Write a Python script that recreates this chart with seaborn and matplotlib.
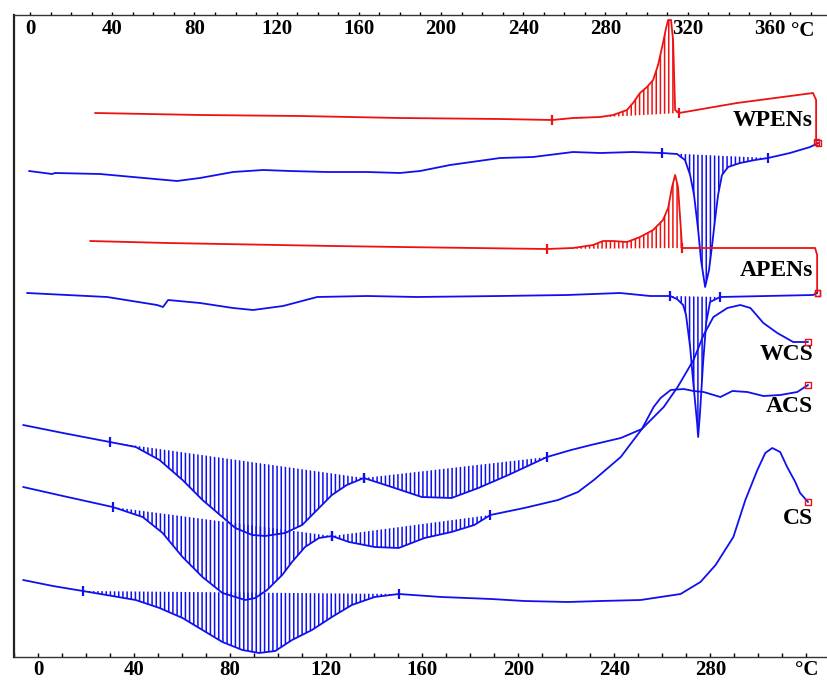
import numpy as np
import pandas as pd
import matplotlib
matplotlib.use("Agg")
import matplotlib.pyplot as plt
import seaborn as sns

# ---- PEN traces, read against the top temperature scale (deg C, arbitrary signal) ----
wpen_red_t = [31.6, 82.7, 131.4, 180.0, 228.7, 254.0, 264.2, 277.4, 283.7, 290.5, 293.4, 296.8,
              300.2, 303.2, 305.6, 308.0, 309.5, 310.5, 311.9, 312.9, 313.9, 315.8, 344.0, 381.0,
              382.5, 382.5]
wpen_red_y = [544, 542, 541, 539, 538, 537, 539, 540, 542, 547, 554, 564, 570, 577, 592, 614, 629,
              637, 637, 617, 547, 544, 554, 564, 557, 515]

wpen_blue_t = [-0.5, 10.7, 12.2, 34.1, 50.1, 71.5, 82.7, 98.8, 113.4, 126.5, 144.5, 164.0, 180.0,
               189.8, 204.4, 228.7, 244.8, 264.2, 277.4, 293.4, 307.5, 314.8, 318.7, 321.2, 323.1,
               325.1, 326.5, 328.5, 330.4, 331.9, 333.3, 334.8, 336.7, 339.7, 345.5, 352.8, 359.1,
               369.8, 379.6, 383.5]
wpen_blue_y = [486, 483, 484, 483, 480, 476, 479, 485, 487, 486, 485, 485, 484, 486, 492, 499, 500,
               505, 504, 505, 504, 503, 497, 482, 462, 427, 397, 370, 387, 412, 437, 462, 482, 490,
               494, 497, 499, 504, 510, 514]

apen_red_t = [29.2, 66.7, 147.4, 180.0, 251.6, 264.2, 274.0, 278.8, 283.7, 290.5, 296.8, 303.2,
              308.0, 310.5, 312.4, 313.9, 315.3, 316.3, 317.3, 382.0, 383.0, 383.0]
apen_red_y = [416, 414, 411, 410, 408, 409, 412, 416, 416, 415, 420, 427, 437, 449, 470, 482, 470,
              440, 409, 409, 402, 364]

apen_blue_t = [-1.5, 37.5, 61.8, 64.7, 67.2, 82.7, 98.8, 108.5, 123.1, 139.7, 164.0, 188.3, 228.7,
               261.3, 287.1, 301.7, 311.4, 314.8, 317.8, 319.2, 321.2, 322.6, 324.6, 325.1, 326.0,
               327.5, 329.0, 330.9, 335.8, 381.0, 383.0]
apen_blue_y = [364, 360, 352, 350, 357, 354, 349, 347, 351, 360, 361, 360, 361, 362, 364, 361, 361,
               358, 352, 342, 310, 277, 234, 220, 244, 294, 334, 355, 360, 362, 364]

# ---- starch traces, read against the bottom temperature scale ----
wcs_t = [-6.2, 10.4, 29.9, 40.7, 50.6, 60.2, 68.5, 76.8, 82.2, 89.2, 94.6, 102.9, 110.0, 116.2,
         122.4, 128.6, 135.7, 147.3, 159.8, 172.2, 183.4, 195.9, 212.0, 222.0, 230.3, 242.7, 251.5,
         260.6, 266.4, 273.0, 277.2, 281.3, 287.1, 292.5, 296.7, 302.1, 307.9, 314.5, 320.7]
wcs_y = [232, 224, 215, 210, 197, 177, 157, 140, 129, 122, 121, 124, 132, 147, 162, 172, 179, 170,
         160, 159, 169, 182, 200, 207, 212, 219, 228, 250, 270, 297, 322, 340, 349, 352, 349, 334,
         324, 315, 315]

acs_t = [-6.2, 10.4, 31.1, 43.6, 51.9, 60.2, 68.5, 76.8, 86.3, 90.5, 95.4, 101.7, 105.8, 111.2,
         117.0, 122.4, 129.5, 140.2, 150.2, 161.0, 172.2, 181.7, 188.4, 202.5, 216.6, 224.9, 231.5,
         242.7, 251.5, 256.4, 259.3, 263.5, 268.9, 273.0, 277.2, 284.2, 289.2, 295.4, 302.1, 309.1,
         316.2, 320.7]
acs_y = [170, 161, 150, 140, 124, 100, 80, 64, 57, 59, 67, 82, 95, 110, 119, 121, 115, 110, 109,
         119, 125, 132, 142, 149, 157, 165, 177, 200, 228, 250, 259, 267, 268, 266, 265, 260, 266,
         265, 261, 262, 265, 272]

cs_t = [-6.2, 6.2, 18.7, 40.7, 50.6, 60.2, 68.5, 76.8, 85.1, 92.1, 98.8, 105.8, 114.1, 122.4,
        130.7, 140.2, 150.2, 168.0, 188.8, 202.5, 220.7, 234.4, 251.0, 267.6, 275.9, 282.2, 289.6,
        294.6, 299.6, 302.9, 305.8, 309.1, 312.0, 315.4, 317.4, 320.7]
cs_y = [77, 71, 66, 57, 49, 39, 27, 15, 7, 4, 6, 17, 27, 40, 52, 60, 63, 60, 58, 56, 55, 56, 57,
        63, 75, 92, 120, 157, 187, 204, 209, 205, 190, 175, 164, 155]

# integration limits of the hatched peaks
wpen_red_peak = [(254.0, 315.8)]
wpen_blue_peak = [(307.5, 359.1)]
apen_red_peak = [(251.6, 317.3)]
apen_blue_peak = [(311.4, 335.8)]
wcs_peaks = [(29.9, 135.7), (135.7, 212.0)]
acs_peaks = [(31.1, 122.4), (122.4, 188.4)]
cs_peaks = [(18.7, 150.2)]

bottom_ticks = [0, 40, 80, 120, 160, 200, 240, 280, 320]
bottom_labels = ['0', '40', '80', '120', '160', '200', '240', '280', '\u00b0C']
top_ticks = [0, 40, 80, 120, 160, 200, 240, 280, 320, 360]
top_labels = ['0', '40', '80', '120', '160', '200', '240', '280', '320', '360']

BLUE = '#1010ee'
RED = '#ee1111'

sns.set_style("white")
plt.rcParams['font.family'] = ['Liberation Serif', 'DejaVu Serif']
plt.rcParams['font.weight'] = 'bold'
plt.rcParams['text.color'] = 'black'
plt.rcParams['xtick.color'] = 'black'
plt.rcParams['xtick.labelcolor'] = 'black'
plt.rcParams['hatch.linewidth'] = 1.1


def trace(ax, t, y, color, peaks):
    df = pd.DataFrame({'t': t, 'y': y})
    sns.lineplot(data=df, x='t', y='y', ax=ax, color=color, lw=1.3,
                 estimator=None, sort=False, legend=False)
    t = np.asarray(t)
    y = np.asarray(y)
    for t0, t1 in peaks:
        i0 = np.where(t == t0)[0][0]
        i1 = np.where(t == t1)[0][0]
        ts = t[i0:i1 + 1]
        ys = y[i0:i1 + 1]
        base = np.interp(ts, [t0, t1], [y[i0], y[i1]])
        ax.fill_between(ts, ys, base, facecolor='none', edgecolor=color,
                        hatch='||||', linewidth=0)
        ax.scatter([t0, t1], [y[i0], y[i1]], marker='|', s=45, color=color,
                   linewidths=1.6, zorder=4)
    ax.scatter([t[-1]], [y[-1]], marker='s', s=14, facecolor='none',
               edgecolor=RED, linewidths=1.0, zorder=5)


fig = plt.figure(figsize=(8.27, 6.8), dpi=100)
ax = fig.add_axes([14 / 827, 23 / 680, 813 / 827, 642 / 680])
ax2 = ax.twiny()

# bottom scale curves
trace(ax, wcs_t, wcs_y, BLUE, wcs_peaks)
trace(ax, acs_t, acs_y, BLUE, acs_peaks)
trace(ax, cs_t, cs_y, BLUE, cs_peaks)

# top scale curves
trace(ax2, wpen_red_t, wpen_red_y, RED, wpen_red_peak)
trace(ax2, wpen_blue_t, wpen_blue_y, BLUE, wpen_blue_peak)
trace(ax2, apen_red_t, apen_red_y, RED, apen_red_peak)
trace(ax2, apen_blue_t, apen_blue_y, BLUE, apen_blue_peak)

ax.set_xlim(-8.7, 328.6)
ax2.set_xlim(-7.8, 387.8)
ax.set_ylim(0, 642)
ax.set_yticks([])
ax.set_xlabel('')
ax.set_ylabel('')
ax2.set_xlabel('')

ax.set_xticks(bottom_ticks)
ax.set_xticklabels(bottom_labels)
ax.set_xticks(np.arange(-10, 330, 10), minor=True)
ax.tick_params(axis='x', which='both', direction='in', length=3, width=1, pad=2,
               labelsize=15, bottom=True, colors='black')

ax2.set_xticks(top_ticks)
ax2.set_xticklabels(top_labels)
ax2.set_xticks(np.arange(0, 390, 10), minor=True)
ax2.tick_params(axis='x', which='both', direction='out', length=2.5, width=1,
                pad=-20, labelsize=15, top=True, colors='black')
ax2.text(376, 642 - 6, '\u00b0C', ha='center', va='top', fontsize=15, fontweight='bold',
         color='black')

for sp in ['right', 'top']:
    ax.spines[sp].set_visible(False)
for sp in ['right', 'left', 'bottom']:
    ax2.spines[sp].set_visible(False)
ax.spines['left'].set_linewidth(1.6)
ax.spines['left'].set_color('#222222')
ax.spines['bottom'].set_linewidth(1.0)
ax2.spines['top'].set_linewidth(1.0)
ax.spines['bottom'].set_color('#333333')
ax2.spines['top'].set_color('#333333')

names = ['WPENs', 'APENs', 'WCS', 'ACS', 'CS']
name_y = [536, 386, 302, 251, 139]
for nm, ny in zip(names, name_y):
    ax.text(322.8, ny, nm, ha='right', va='center', fontsize=17, fontweight='bold',
            color='black')

fig.savefig('out.png', dpi=100)
